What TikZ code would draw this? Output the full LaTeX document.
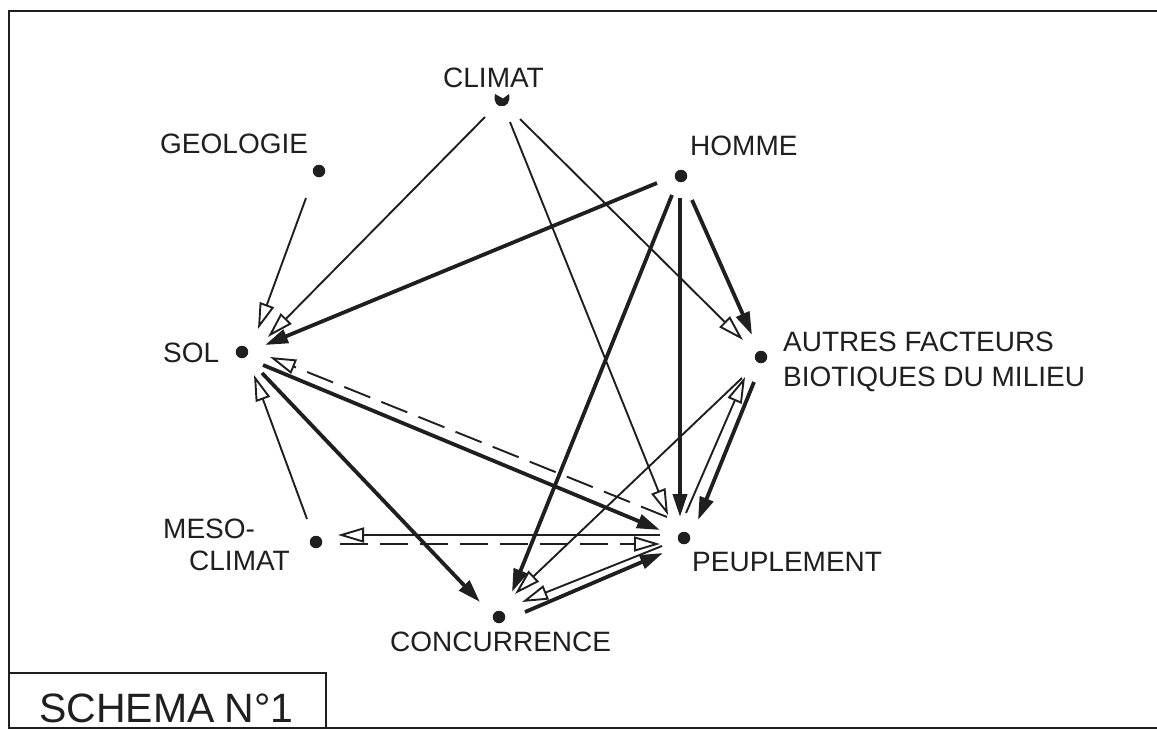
\documentclass[tikz,border=0pt]{standalone}
\usepackage{fontspec}
\setmainfont{Liberation Sans}
\usetikzlibrary{arrows.meta,calc}
\definecolor{ink}{HTML}{1f1f1f}
\begin{document}
\begin{tikzpicture}[x=1pt,y=-1pt,
  dotnode/.style={circle, fill=ink, inner sep=0pt, minimum size=12.5pt},
  thinopen/.style={draw=ink, line width=1.9pt, -{Triangle[length=26pt,width=15pt,fill=white]}},
  thickfill/.style={draw=ink, line width=3.8pt, -{Triangle[length=23pt,width=14pt]}},
  dashopen/.style={thinopen, dash pattern=on 28pt off 12pt},
  lab/.style={text=ink, font=\fontsize{28}{32}\selectfont, anchor=base west, inner sep=0pt},
  framerule/.style={draw=ink, line width=2.8pt}]
\useasboundingbox (0,0) rectangle (1157,729);
% frame
\draw[framerule] (9,729) -- (9,11) -- (1157,11);
\draw[draw=ink, line width=1.6pt] (9,727.8) -- (1157,727.8);
\draw[framerule] (9,673) -- (326,673) -- (326,729);
% dots
\node[dotnode] (geo) at (319,171) {};
\node[dotnode] (sol) at (242,352) {};
\node[dotnode] (homme) at (681,176) {};
\node[dotnode] (autres) at (761,357) {};
\node[dotnode] (meso) at (316,542) {};
\node[dotnode] (peup) at (684,538) {};
\node[dotnode] (conc) at (499,617) {};
\coordinate (clim) at (502,100);
\fill[ink] (495,94) .. controls (493,103) and (498,107) .. (502,106) .. controls (506,107) and (511,102) .. (509,94) -- (503,98.5) -- cycle;
% labels
\node[lab] (tclimat) at (443,87) {CLIMAT};
\node[lab] (tgeo) at (160,153) {GEOLOGIE};
\node[lab] (thomme) at (690,155) {HOMME};
\node[lab] (tsol) at (163,362) {SOL};
\node[lab] (tautres1) at (783,351) {AUTRES FACTEURS};
\node[lab] (tautres2) at (783,386) {BIOTIQUES DU MILIEU};
\node[lab] (tmeso1) at (163,538) {MESO-};
\node[lab] (tmeso2) at (189,570) {CLIMAT};
\node[lab] (tpeup) at (692,571) {PEUPLEMENT};
\node[lab] (tconc) at (390,651) {CONCURRENCE};
\node[lab, font=\fontsize{41}{44}\selectfont] (tschema) at (39,722) {SCHEMA\hspace{10pt}N°1};
% connectors
\draw[thinopen] ($(geo)+(-13,27)$) -- ($(sol)+(16,-23)$);
\draw[thinopen] ($(clim)+(-17,17)$) -- ($(sol)+(26,-15)$);
\draw[thickfill] ($(homme)+(-24,7)$) -- ($(sol)+(23,-7)$);
\draw[thinopen] ($(clim)+(18,19)$) -- ($(autres)+(-18,-17)$);
\draw[thinopen] ($(clim)+(8,22)$) -- ($(peup)+(-16,-23)$);
\draw[thickfill] ($(homme)+(11,24)$) -- ($(autres)+(-9,-22)$);
\draw[thickfill] ($(homme)+(-1,22)$) -- ($(peup)+(-4,-21)$);
\draw[thickfill] ($(homme)+(-9,19)$) -- ($(conc)+(13,-25)$);
\draw[thickfill] ($(sol)+(21,13)$) -- ($(peup)+(-24,-8)$);
\draw[dashopen] ($(peup)+(-17,-21)$) -- ($(sol)+(28,5)$);
\draw[thickfill] ($(sol)+(20,21)$) -- ($(conc)+(-19,-15)$);
\draw[thinopen] ($(meso)+(-9,-23)$) -- ($(sol)+(12,23)$);
\draw[thinopen] ($(peup)+(-24,-3)$) -- ($(meso)+(22,-7)$);
\draw[dashopen] ($(meso)+(24,2)$) -- ($(peup)+(-24,6)$);
\draw[thickfill] ($(autres)+(-7,25)$) -- ($(peup)+(14,-18)$);
\draw[thinopen] ($(peup)+(2,-25)$) -- ($(autres)+(-16,20)$);
\draw[thinopen] ($(autres)+(-19,21)$) -- ($(conc)+(16,-23)$);
\draw[thickfill] ($(conc)+(26,-5)$) -- ($(peup)+(-21,15)$);
\draw[thinopen] ($(peup)+(-22,8)$) -- ($(conc)+(23,-15)$);
\end{tikzpicture}
\end{document}
